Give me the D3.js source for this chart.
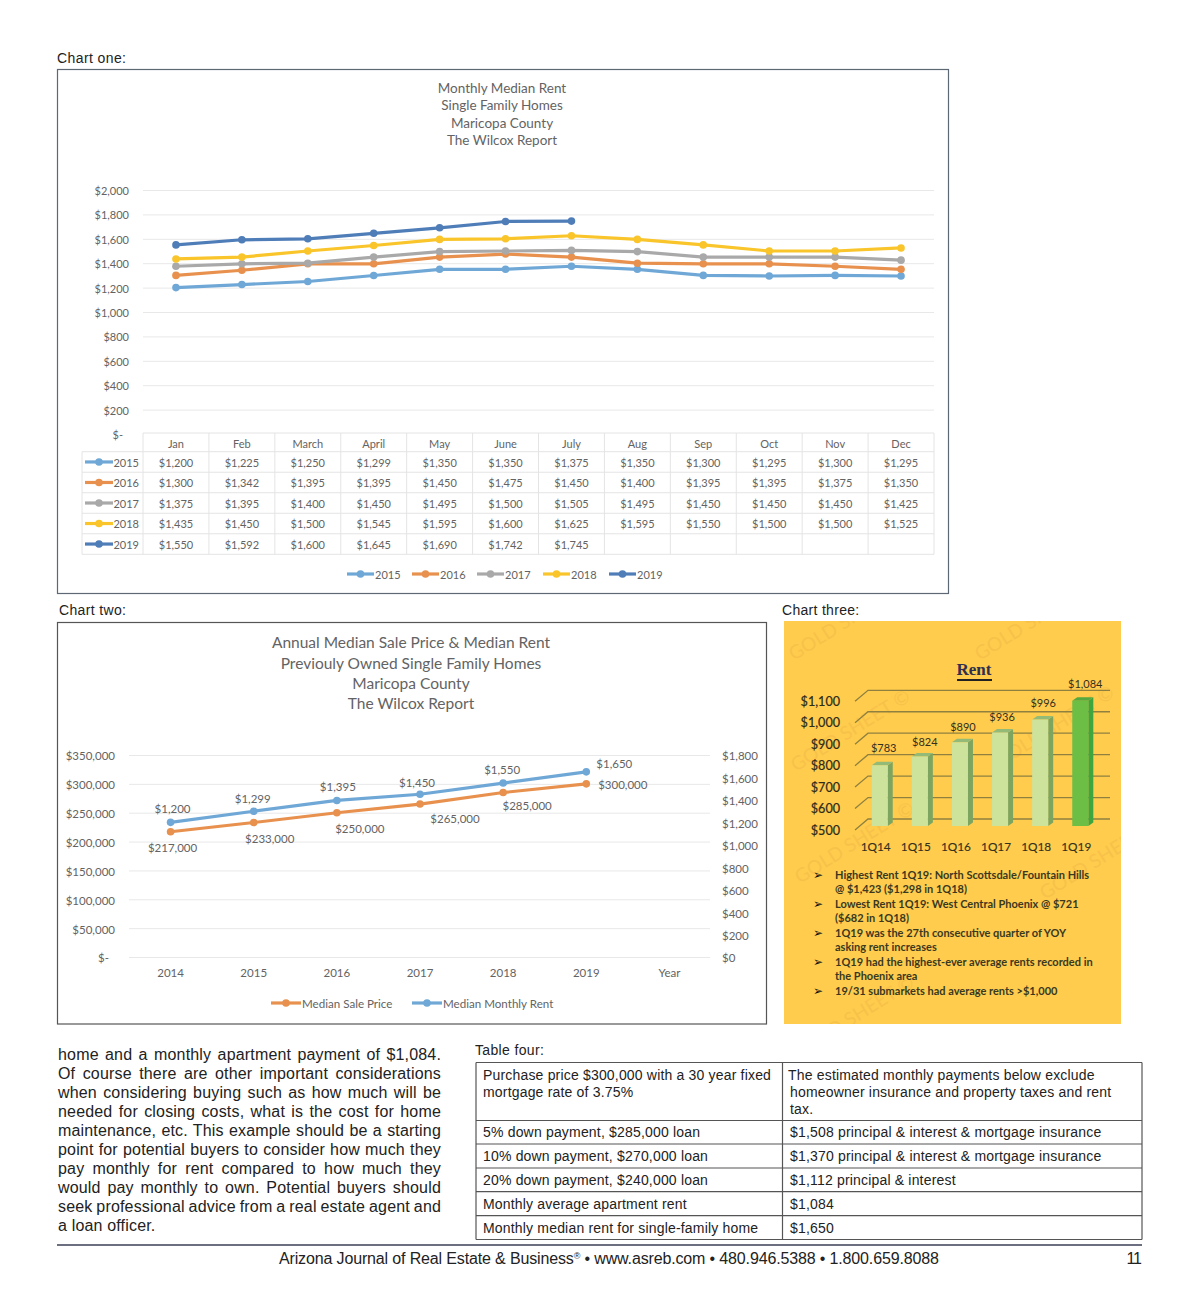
<!DOCTYPE html>
<html><head><meta charset="utf-8">
<script src="https://cdn.jsdelivr.net/npm/d3@7"></script>
<style>
html,body{margin:0;padding:0;background:#fff}
svg{display:block}
.doc{font-family:"Liberation Sans",Arial,sans-serif;fill:#222}
.xl{font-family:Lato,"Open Sans",sans-serif;fill:#636363}
.g3{font-family:Lato,"Open Sans",sans-serif;fill:#33301f}
</style></head><body>
<script>
// ---- Chart one data
const months=["Jan","Feb","March","April","May","June","July","Aug","Sep","Oct","Nov","Dec"];
const rentYears=["2015","2016","2017","2018","2019"];
const rent2015=[1200,1225,1250,1299,1350,1350,1375,1350,1300,1295,1300,1295];
const rent2016=[1300,1342,1395,1395,1450,1475,1450,1400,1395,1395,1375,1350];
const rent2017=[1375,1395,1400,1450,1495,1500,1505,1495,1450,1450,1450,1425];
const rent2018=[1435,1450,1500,1545,1595,1600,1625,1595,1550,1500,1500,1525];
const rent2019=[1550,1592,1600,1645,1690,1742,1745];
const yearColors=["#6fa8d6","#e8914e","#a9a9a9","#f9c52a","#4f7db8"];
// ---- Chart two data
const saleYears=["2014","2015","2016","2017","2018","2019","Year"];
const salePrice=[217000,233000,250000,265000,285000,300000];
const monthlyRent=[1200,1299,1395,1450,1550,1650];
// ---- Chart three data
const quarters=["1Q14","1Q15","1Q16","1Q17","1Q18","1Q19"];
const avgRent=[783,824,890,936,996,1084];
const rentNotes=["Highest Rent 1Q19: North Scottsdale/Fountain Hills","@ $1,423 ($1,298 in 1Q18)","Lowest Rent 1Q19:  West Central Phoenix @ $721","($682 in 1Q18)","1Q19 was the 27th consecutive quarter of YOY","asking rent increases","1Q19 had the highest-ever average rents recorded in","the Phoenix area","19/31 submarkets had average rents >$1,000"];
const noteBullets=[0,2,4,6,8];
// ---- Page text
const bodyLines=["home and a monthly apartment payment of $1,084.","Of course there are other important considerations","when considering buying such as how much will be","needed for closing costs, what is the cost for home","maintenance, etc. This example should be a starting","point for potential buyers to consider how much they","pay monthly for rent compared to how much they","would pay monthly to own. Potential buyers should","seek professional advice from a real estate agent and","a loan officer."];
const tableLeft=["Purchase price $300,000 with a 30 year fixed|mortgage rate of 3.75%","5% down payment, $285,000 loan","10% down payment, $270,000 loan","20% down payment, $240,000 loan","Monthly average apartment rent","Monthly median rent for single-family home"];
const tableRight=["The estimated monthly payments below exclude|homeowner insurance and property taxes and rent|tax.","$1,508 principal & interest & mortgage insurance","$1,370 principal & interest & mortgage insurance","$1,112 principal & interest","$1,084","$1,650"];

const svg=d3.select("body").append("svg").attr("width",1200).attr("height",1302).attr("viewBox","0 0 1200 1302");
const money=d3.format("$,");
const dollar=v=>v===0?"$-":money(v);
const doc=svg.append("g").attr("class","doc");
function label(p,x,y,t,size,anchor){return p.append("text").attr("x",x).attr("y",y).attr("dy",".35em").attr("font-size",size).attr("text-anchor",anchor||"start").text(t);}
function swatch(p,x1,x2,y,c,w,r){
  p.append("line").attr("x1",x1).attr("x2",x2).attr("y1",y).attr("y2",y).attr("stroke",c).attr("stroke-width",w);
  p.append("circle").attr("cx",(x1+x2)/2).attr("cy",y).attr("r",r).attr("fill",c);
}
function box(x,y,w,h,c){svg.append("rect").attr("x",x).attr("y",y).attr("width",w).attr("height",h).attr("fill","none").attr("stroke",c).attr("stroke-width",1.2);}

label(doc,57,58,"Chart one:",14).attr("letter-spacing",.4);
label(doc,59,610,"Chart two:",14).attr("letter-spacing",.35);
label(doc,782,610,"Chart three:",14).attr("letter-spacing",.3);
label(doc,475,1050,"Table four:",14).attr("letter-spacing",.35);

// ================= Chart one
box(57.5,69.5,891,524,"#5c6873");
const c1=svg.append("g").attr("class","xl");
["Monthly Median Rent","Single Family Homes","Maricopa County","The Wilcox Report"].forEach((t,i)=>label(c1,502,88+i*17.5,t,13.5,"middle"));
const x1=d3.scaleBand().domain(months).range([143,934]);
const y1=d3.scaleLinear().domain([0,2000]).range([434,190]);
const ax1=c1.append("g").attr("transform","translate(143,0)").call(d3.axisLeft(y1).tickValues(d3.range(0,2001,200)).tickSize(-791).tickPadding(14).tickFormat(dollar));
ax1.select(".domain").remove();
ax1.selectAll("line").attr("stroke","#e8e8e8");
ax1.selectAll("text").attr("font-family","Lato").attr("font-size",11).attr("fill","#636363").attr("y",1);
ax1.selectAll(".tick").filter(d=>d===0).select("line").remove();
ax1.selectAll(".tick").filter(d=>d===0).select("text").attr("dx",-6);
const series1=[rent2015,rent2016,rent2017,rent2018,rent2019];
const line1=d3.line().x((d,i)=>x1(months[i])+x1.bandwidth()/2).y(d=>y1(d));
series1.forEach((vals,k)=>{
  const g=c1.append("g");
  g.append("path").attr("d",line1(vals)).attr("fill","none").attr("stroke",yearColors[k]).attr("stroke-width",3.2);
  g.selectAll("circle").data(vals).join("circle").attr("cx",(d,i)=>x1(months[i])+x1.bandwidth()/2).attr("cy",d=>y1(d)).attr("r",3.8).attr("fill",yearColors[k]);
});
// data table
const rowY=d3.scaleBand().domain(rentYears).range([451.7,554.3]);
const gridC="#e4e4e4";
const tbl=c1.append("g").attr("stroke",gridC).attr("stroke-width",1);
months.concat(["end"]).forEach((m,i)=>{const x=143+i*x1.step();tbl.append("line").attr("x1",x).attr("x2",x).attr("y1",433).attr("y2",554.3);});
tbl.append("line").attr("x1",143).attr("x2",934).attr("y1",433).attr("y2",433);
tbl.append("line").attr("x1",82).attr("x2",82).attr("y1",451.7).attr("y2",554.3);
rentYears.concat(["end"]).forEach((r,i)=>{const y=451.7+i*rowY.step();tbl.append("line").attr("x1",82).attr("x2",934).attr("y1",y).attr("y2",y);});
months.forEach(m=>label(c1,x1(m)+x1.bandwidth()/2,444,m,11,"middle"));
rentYears.forEach((r,k)=>{
  const yc=rowY(r)+rowY.bandwidth()/2;
  swatch(c1,85,113,yc,yearColors[k],3.2,3.8);
  label(c1,139,yc+1,r,11,"end");
  series1[k].forEach((v,i)=>label(c1,x1(months[i])+x1.bandwidth()/2,yc+1,money(v),11,"middle"));
});
// bottom legend
const legend1X=[347,412,477,543,609];
rentYears.forEach((r,k)=>{
  swatch(c1,legend1X[k],legend1X[k]+27,574,yearColors[k],3.2,3.8);
  label(c1,legend1X[k]+28,575,r,11);
});

// ================= Chart two
box(57.5,622.5,709,401.5,"#555");
const c2=svg.append("g").attr("class","xl");
["Annual Median Sale Price & Median Rent","Previouly Owned Single Family Homes","Maricopa County","The Wilcox Report"].forEach((t,i)=>label(c2,411,643+i*20.2,t,15.5,"middle"));
const x2=d3.scaleBand().domain(saleYears).range([129,711]);
const cx2=i=>x2(saleYears[i])+x2.bandwidth()/2;
const y2L=d3.scaleLinear().domain([0,350000]).range([957,755]);
const y2R=d3.scaleLinear().domain([0,1800]).range([957,755]);
const ax2=c2.append("g").attr("transform","translate(129,0)").call(d3.axisLeft(y2L).tickValues(d3.range(0,350001,50000)).tickSize(-581).tickPadding(14).tickFormat(dollar));
ax2.select(".domain").remove();
ax2.selectAll("line").attr("stroke","#e8e8e8");
ax2.selectAll("text").attr("font-family","Lato").attr("font-size",11.5).attr("fill","#636363").attr("y",1.2);
ax2.selectAll(".tick").filter(d=>d===0).select("text").attr("dx",-6);
const ax2r=c2.append("g").attr("transform","translate(710,0)").call(d3.axisRight(y2R).tickValues(d3.range(0,1801,200)).tickSize(0).tickPadding(12).tickFormat(d3.format("$,")));
ax2r.select(".domain").remove();
ax2r.selectAll("text").attr("font-family","Lato").attr("font-size",11.5).attr("fill","#636363").attr("y",1.2);
const ax2b=c2.append("g").attr("transform","translate(0,957)").call(d3.axisBottom(x2).tickSize(0).tickPadding(12));
ax2b.select(".domain").remove();
ax2b.selectAll("text").attr("font-family","Lato").attr("font-size",11.5).attr("fill","#636363");
function series2(vals,y,c){
  c2.append("path").attr("d",d3.line().x((d,i)=>cx2(i)).y(d=>y(d))(vals)).attr("fill","none").attr("stroke",c).attr("stroke-width",3.2);
  c2.append("g").selectAll("circle").data(vals).join("circle").attr("cx",(d,i)=>cx2(i)).attr("cy",d=>y(d)).attr("r",3.8).attr("fill",c);
}
series2(salePrice,y2L,"#e8914e");
series2(monthlyRent,y2R,"#6fa8d6");
const saleLabelDx=[2,16,23,35,24,36.5], saleLabelDy=[16,16.5,16,15,13,1];
const rentLabelDx=[2,-1,1,-3,-1,28], rentLabelDy=[-13,-12,-13.5,-11,-13,-8];
salePrice.forEach((v,i)=>label(c2,cx2(i)+saleLabelDx[i],y2L(v)+saleLabelDy[i],money(v),11.5,"middle"));
monthlyRent.forEach((v,i)=>label(c2,cx2(i)+rentLabelDx[i],y2R(v)+rentLabelDy[i],money(v),11.5,"middle"));
swatch(c2,271,301,1003,"#e8914e",3.2,3.8); label(c2,302,1004,"Median Sale Price",11.6);
swatch(c2,412,442,1003,"#6fa8d6",3.2,3.8); label(c2,443,1004,"Median Monthly Rent",11.6);

// ================= Chart three
svg.append("clipPath").attr("id","gold").append("rect").attr("x",784).attr("y",621).attr("width",337).attr("height",403);
svg.append("rect").attr("x",784).attr("y",621).attr("width",337).attr("height",403).attr("fill","#ffcc4d");
const wm=svg.append("g").attr("clip-path","url(#gold)").attr("font-family","Lato").attr("font-size",19).attr("fill","#f8c24a");
[[794,661],[980,661],[796,772],[1000,768],[800,884],[1045,900],[800,1058]].forEach(p=>
  wm.append("text").attr("transform",`translate(${p[0]},${p[1]}) rotate(-32)`).text("GOLD SHEET ©"));
const c3=svg.append("g").attr("class","g3");
c3.append("text").attr("x",974).attr("y",675).attr("text-anchor","middle").attr("font-family","Liberation Serif").attr("font-weight","700").attr("font-size",17).attr("fill","#2f2f50").text("Rent");
c3.append("rect").attr("x",957).attr("y",679).attr("width",35).attr("height",2).attr("fill","#222");
const yBack=d3.scaleLinear().domain([500,1100]).range([819,690.3]);
const rentTicks=d3.range(500,1101,100);
const depthX=13, depthY=11, barDrop=7;
rentTicks.forEach(v=>{
  const y=yBack(v);
  c3.append("path").attr("d",`M${868-depthX},${y+depthY}L868,${y}L1110,${y}`).attr("fill","none").attr("stroke","#8f8040").attr("stroke-width",1.3);
});
const ax3=c3.append("g").attr("transform",`translate(840,${depthY})`).call(d3.axisLeft(yBack).tickValues(rentTicks).tickSize(0).tickPadding(0).tickFormat(d3.format("$,")));
ax3.select(".domain").remove();
ax3.selectAll("text").attr("font-family","Lato").attr("font-size",12.6).attr("fill","#2e2b1a").attr("stroke","#2e2b1a").attr("stroke-width",.2);
const x3=d3.scaleBand().domain(quarters).range([871.7,1088.3]).paddingInner(.6).paddingOuter(0);
const side=5, rise=3.5;
quarters.forEach((q,i)=>{
  const x=x3(q), w=x3.bandwidth(), yt=yBack(avgRent[i])+barDrop, yb=yBack(500)+barDrop, last=i===5;
  c3.append("path").attr("d",`M${x+w},${yt}l${side},${-rise}L${x+w+side},${yb-rise}L${x+w},${yb}Z`).attr("fill",last?"#3fa63f":"#7da560");
  c3.append("path").attr("d",`M${x},${yt}l${side},${-rise}h${w}l${-side},${rise}Z`).attr("fill",last?"#55a93f":"#93bb77");
  c3.append("rect").attr("x",x).attr("y",yt).attr("width",w).attr("height",yb-yt).attr("fill",last?"#6cbe45":"#cde29b");
  label(c3,x+w/2-4,847,q,11.8,"middle").attr("stroke","#33301f").attr("stroke-width",.15);
});
const barLabelDx=[4,5,3,2,3,5], barLabelDy=[-17,-14,-15,-15,-16,-17];
avgRent.forEach((v,i)=>label(c3,x3(quarters[i])+x3.bandwidth()/2+barLabelDx[i],yBack(v)+barDrop+barLabelDy[i],money(v),11,"middle"));
rentNotes.forEach((t,i)=>{
  const y=875+i*14.5;
  label(c3,835,y,t,11).attr("font-weight","700").attr("fill","#3a3820");
  if(noteBullets.includes(i)) label(c3,818,y,"➢",12,"middle").attr("font-family","DejaVu Sans").attr("fill","#111");
});

// ================= Body text
bodyLines.forEach((t,i)=>{
  const el=label(doc,58,1054+i*19.05,t,16).attr("letter-spacing",.17);
  if(i<bodyLines.length-1){
    const gaps=t.split(" ").length-1, w=el.node().getComputedTextLength();
    el.attr("word-spacing",((441-58-w)/gaps).toFixed(2));
  }
});

// ================= Table four
const rowEdges=[1062.5,1120.5,1144,1168,1191.7,1215.7,1239.5];
const tb=svg.append("g").attr("stroke","#555").attr("stroke-width",1.2);
rowEdges.forEach(y=>tb.append("line").attr("x1",476).attr("x2",1142).attr("y1",y).attr("y2",y));
[476,782.5,1142].forEach(x=>tb.append("line").attr("x1",x).attr("x2",x).attr("y1",1062.5).attr("y2",1239.5));
function cell(t,i,x){
  const parts=t.split("|");
  parts.forEach((p,j)=>label(doc,x+(i===0&&x>700&&j===0?-2:0),i===0?1075+j*17:rowEdges[i]+12,p,14).attr("letter-spacing",.18));
}
tableLeft.forEach((t,i)=>cell(t,i,483));
tableRight.forEach((t,i)=>cell(t,i,790));

// ================= Footer
svg.append("line").attr("x1",57).attr("x2",1142).attr("y1",1245).attr("y2",1245).attr("stroke","#3a3f55").attr("stroke-width",1.4);
const ft=label(doc,279,1258,"Arizona Journal of Real Estate & Business",16).attr("letter-spacing",-.145);
ft.append("tspan").attr("font-size",9).attr("dy","-.5em").text("®");
ft.append("tspan").attr("dy",".3em").text(" • www.asreb.com • 480.946.5388 • 1.800.659.8088");
label(doc,1141,1258,"11",16,"end").attr("letter-spacing",-1);
</script>
</body></html>
